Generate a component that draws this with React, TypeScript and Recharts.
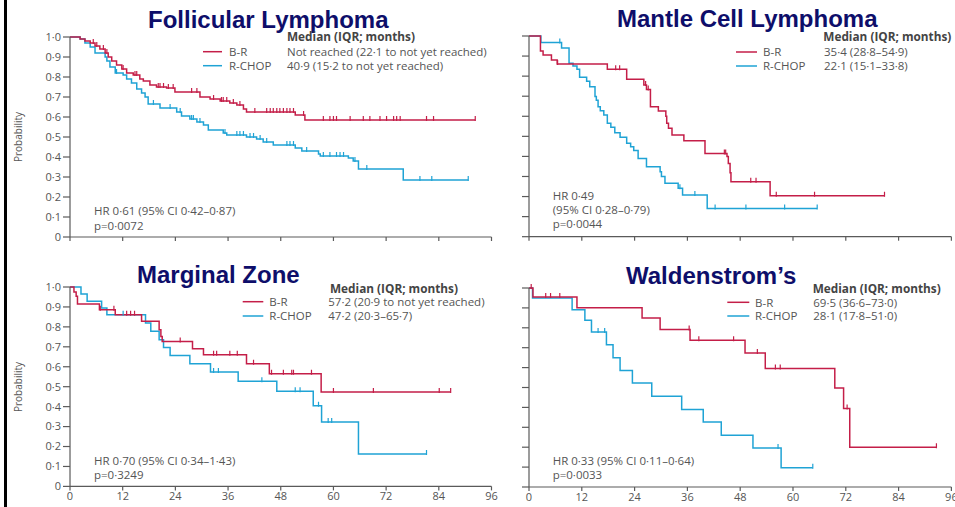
import React from "react";
import { LineChart, Line, XAxis, YAxis } from "recharts";

// ---------- tick labels ----------
const xTicks = [0, 12, 24, 36, 48, 60, 72, 84, 96];
const yTicks = [0, 0.1, 0.2, 0.3, 0.4, 0.5, 0.6, 0.7, 0.8, 0.9, 1.0];
const panelTitles = ["Follicular Lymphoma", "Mantle Cell Lymphoma", "Marginal Zone", "Waldenstrom’s"];
const seriesNames = ["B-R", "R-CHOP"];

// ---------- Follicular Lymphoma ----------
const flBrT = [2.3, 3.4, 4.6, 5.7, 6.8, 8.0, 8.7, 9.5, 10.6, 11.8, 12.9, 14.4, 15.9, 16.7, 18.2, 19.7, 22.0, 23.9, 29.6, 31.9, 34.2, 36.4, 38.0, 39.5, 40.2, 51.3, 53.5];
const flBrS = [0.99, 0.98, 0.97, 0.955, 0.94, 0.92, 0.9, 0.88, 0.86, 0.84, 0.82, 0.81, 0.79, 0.78, 0.76, 0.75, 0.745, 0.725, 0.7, 0.69, 0.68, 0.67, 0.66, 0.64, 0.625, 0.61, 0.585];
const flBrCens = [5.3, 6.1, 7.6, 8.4, 12.1, 14.8, 15.2, 20.1, 20.5, 21.3, 22.4, 23.5, 27.7, 28.9, 32.7, 34.5, 34.9, 35.7, 37.2, 38.7, 42.1, 44.8, 45.6, 46.3, 47.1, 47.8, 48.6, 49.4, 50.1, 50.9, 53.2, 57.7, 59.2, 60.0, 60.7, 63.8, 66.8, 68.3, 70.6, 72.1, 73.7, 74.4, 75.2, 81.2, 82.8, 92.3];
const flRcT = [2.3, 3.4, 4.6, 5.7, 8.0, 8.4, 9.1, 10.3, 12.1, 12.9, 14.0, 15.2, 16.3, 17.1, 17.8, 20.5, 24.3, 25.4, 27.3, 28.9, 30.4, 31.5, 34.9, 35.7, 40.2, 42.5, 44.0, 46.3, 51.3, 52.8, 56.6, 57.0, 63.4, 64.5, 65.7, 75.9];
const flRcS = [0.99, 0.97, 0.95, 0.92, 0.9, 0.88, 0.85, 0.82, 0.81, 0.79, 0.77, 0.74, 0.72, 0.7, 0.665, 0.645, 0.625, 0.605, 0.59, 0.575, 0.56, 0.535, 0.52, 0.51, 0.5, 0.49, 0.475, 0.46, 0.445, 0.43, 0.415, 0.405, 0.395, 0.38, 0.34, 0.285];
const flRcCens = [10.6, 19.0, 22.8, 25.1, 27.7, 28.1, 29.6, 35.3, 38.0, 38.7, 39.5, 41.0, 41.8, 43.3, 44.8, 49.4, 50.1, 50.9, 53.9, 57.7, 59.2, 60.7, 61.5, 62.3, 64.9, 67.6, 79.7, 82.4, 90.7];

// ---------- Mantle Cell Lymphoma ----------
const mcBrT = [2.6, 3.2, 5.1, 6.4, 17.8, 22.2, 26.1, 26.7, 27.6, 29.4, 31.1, 31.3, 31.7, 32.5, 35.2, 40.0, 45.0, 45.3, 45.7, 45.9, 54.8];
const mcBrS = [0.925, 0.905, 0.88, 0.86, 0.834, 0.784, 0.756, 0.734, 0.648, 0.626, 0.6, 0.565, 0.54, 0.507, 0.478, 0.415, 0.4, 0.365, 0.319, 0.274, 0.204];
const mcBrCens = [6.5, 19.7, 20.6, 26.5, 27.1, 44.4, 44.7, 50.4, 51.6, 56.2, 64.9, 80.8];
const mcRcT = [2.7, 7.4, 9.1, 10.0, 10.9, 11.5, 13.1, 13.8, 15.0, 15.3, 15.7, 16.2, 17.0, 17.8, 18.6, 19.5, 20.7, 22.2, 23.1, 23.8, 24.8, 26.7, 29.8, 30.1, 30.9, 33.9, 34.9, 40.5];
const mcRcS = [0.967, 0.94, 0.864, 0.85, 0.834, 0.794, 0.775, 0.747, 0.698, 0.68, 0.648, 0.627, 0.606, 0.565, 0.545, 0.518, 0.495, 0.465, 0.448, 0.43, 0.39, 0.349, 0.324, 0.3, 0.266, 0.241, 0.208, 0.141];
const mcRcCens = [7.0, 34.3, 37.7, 42.3, 49.3, 58.1, 65.5];

// ---------- Marginal Zone ----------
const mzBrT = [0.9, 1.4, 1.7, 6.7, 10.3, 16.3, 20.3, 20.7, 21.0, 27.9, 30.4, 40.2, 45.4, 57.2];
const mzBrS = [0.975, 0.953, 0.915, 0.886, 0.861, 0.828, 0.786, 0.752, 0.727, 0.69, 0.66, 0.615, 0.565, 0.473];
const mzBrCens = [6.9, 10.0, 12.9, 13.8, 14.7, 25.1, 32.7, 33.4, 36.4, 38.1, 41.8, 45.9, 48.6, 50.5, 50.9, 55.0, 60.0, 69.1, 84.1, 86.7];
const mzRcT = [2.5, 3.9, 7.2, 8.4, 17.2, 18.4, 20.3, 21.3, 22.8, 27.3, 32.0, 38.3, 47.1, 55.4, 57.3, 65.7];
const mzRcS = [0.965, 0.928, 0.895, 0.861, 0.82, 0.778, 0.736, 0.697, 0.656, 0.615, 0.574, 0.527, 0.477, 0.405, 0.323, 0.162];
const mzRcCens = [12.1, 32.7, 33.8, 43.7, 51.3, 52.4, 56.6, 58.8, 59.6, 81.2];

// ---------- Waldenstrom's ----------
const wmBrT = [0.9, 10.9, 25.7, 29.8, 36.6, 49.1, 53.7, 69.5, 71.5, 72.9];
const wmBrS = [0.955, 0.901, 0.849, 0.792, 0.737, 0.673, 0.595, 0.497, 0.394, 0.2];
const wmBrCens = [0.5, 3.8, 4.9, 7.0, 36.4, 38.6, 46.5, 51.9, 56.0, 57.1, 72.3, 92.6];
const wmRcT = [0.8, 9.8, 12.7, 14.2, 17.6, 19.1, 20.7, 23.5, 27.9, 34.7, 39.6, 43.7, 50.9, 57.3];
const wmRcS = [0.95, 0.891, 0.838, 0.779, 0.715, 0.65, 0.586, 0.523, 0.456, 0.39, 0.327, 0.26, 0.196, 0.097];
const wmRcCens = [15.7, 17.2, 56.6, 64.5];

const RED = "#c41e48";
const CYAN = "#1fa3d5";
const AXIS = "#5a5a5a";
const TEXT = "#555";
const NAVY = "#0e0e6a";
const FS = 11.5;

type Pt = { t: number; s: number; c: boolean };

function buildSeries(evT: number[], evS: number[], cens: number[]): Pt[] {
  const pts: Pt[] = [{ t: 0, s: 1, c: false }];
  evT.forEach((t, i) => pts.push({ t, s: evS[i], c: false }));
  const levelAt = (t: number) => {
    let s = 1;
    evT.forEach((et, i) => {
      if (et <= t) s = evS[i];
    });
    return s;
  };
  cens.forEach((t) => pts.push({ t, s: levelAt(t), c: true }));
  pts.sort((a, b) => a.t - b.t);
  return pts;
}

const fmtY = (v: number) => (v === 0 ? "0" : v.toFixed(1).replace(".", "·"));
const blank = () => "";

function makeDot(color: string) {
  return (props: any) => {
    const { cx, cy, payload, index } = props;
    if (!payload || !payload.c || cx == null || cy == null) return <g key={`d-${index}`} />;
    return <line key={`d-${index}`} x1={cx} x2={cx} y1={cy - 4} y2={cy + 1} stroke={color} strokeWidth={1.2} />;
  };
}

type PanelProps = {
  x0: number;
  x96: number;
  y1: number;
  y0: number;
  br: Pt[];
  rc: Pt[];
  showX: boolean;
  showY: boolean;
};

function KMPanel({ x0, x96, y1, y0, br, rc, showX, showY }: PanelProps) {
  const ml = 60;
  const mr = 14;
  const mt = 10;
  const xh = 30;
  const W = x96 - x0 + ml + mr;
  const H = y0 - y1 + mt + xh;
  return (
    <div style={{ position: "absolute", left: x0 - ml, top: y1 - mt, width: W, height: H }}>
      <LineChart width={W} height={H} margin={{ top: mt, right: mr, bottom: 0, left: 0 }}>
        <XAxis
          type="number"
          dataKey="t"
          domain={[0, 96]}
          ticks={xTicks}
          interval={0}
          allowDataOverflow
          height={xh}
          tickSize={4}
          axisLine={{ stroke: AXIS, strokeWidth: 1.2 }}
          tickLine={{ stroke: AXIS, strokeWidth: 1.2 }}
          tick={{ fill: TEXT, fontSize: 11 }}
          tickFormatter={showX ? (v: number) => String(v) : blank}
        />
        <YAxis
          type="number"
          domain={[0, 1]}
          ticks={yTicks}
          interval={0}
          width={ml}
          tickSize={7}
          axisLine={{ stroke: AXIS, strokeWidth: 1.2 }}
          tickLine={{ stroke: AXIS, strokeWidth: 1.2 }}
          tick={{ fill: TEXT, fontSize: 11 }}
          tickFormatter={showY ? fmtY : blank}
        />
        <Line
          data={rc}
          dataKey="s"
          name={seriesNames[1]}
          type="stepAfter"
          stroke={CYAN}
          strokeWidth={1.5}
          dot={makeDot(CYAN)}
          activeDot={false}
          isAnimationActive={false}
        />
        <Line
          data={br}
          dataKey="s"
          name={seriesNames[0]}
          type="stepAfter"
          stroke={RED}
          strokeWidth={1.5}
          dot={makeDot(RED)}
          activeDot={false}
          isAnimationActive={false}
        />
      </LineChart>
    </div>
  );
}

function LegendBlock({ hx, hy, lx1, lx2, ly1, ly2, labx, valx, v1, v2 }: any) {
  return (
    <g>
      <text x={hx} y={hy} fontWeight="bold" fill="#444" fontSize={FS + 0.3}>
        Median (IQR; months)
      </text>
      <line x1={lx1} x2={lx2} y1={ly1} y2={ly1} stroke={RED} strokeWidth={1.5} />
      <line x1={lx1} x2={lx2} y1={ly2} y2={ly2} stroke={CYAN} strokeWidth={1.5} />
      <text x={labx} y={ly1 + 4.2} fill={TEXT} fontSize={FS}>{seriesNames[0]}</text>
      <text x={labx} y={ly2 + 4.2} fill={TEXT} fontSize={FS}>{seriesNames[1]}</text>
      <text x={valx} y={ly1 + 4.2} fill={TEXT} fontSize={FS}>{v1}</text>
      <text x={valx} y={ly2 + 4.2} fill={TEXT} fontSize={FS}>{v2}</text>
    </g>
  );
}

export default function App() {
  const fl = { br: buildSeries(flBrT, flBrS, flBrCens), rc: buildSeries(flRcT, flRcS, flRcCens) };
  const mc = { br: buildSeries(mcBrT, mcBrS, mcBrCens), rc: buildSeries(mcRcT, mcRcS, mcRcCens) };
  const mz = { br: buildSeries(mzBrT, mzBrS, mzBrCens), rc: buildSeries(mzRcT, mzRcS, mzRcCens) };
  const wm = { br: buildSeries(wmBrT, wmBrS, wmBrCens), rc: buildSeries(wmRcT, wmRcS, wmRcCens) };
  const font = "'Open Sans', 'DejaVu Sans', sans-serif";
  return (
    <div
      style={{
        position: "absolute",
        left: 0,
        top: 0,
        width: 955,
        height: 507,
        background: "#fff",
        overflow: "hidden",
        fontFamily: font,
      }}
    >
      <KMPanel x0={70} x96={491.5} y1={37} y0={237} br={fl.br} rc={fl.rc} showX={false} showY={true} />
      <KMPanel x0={529.3} x96={951.7} y1={36} y0={236.7} br={mc.br} rc={mc.rc} showX={false} showY={false} />
      <KMPanel x0={70} x96={491.5} y1={287.3} y0={486.7} br={mz.br} rc={mz.rc} showX={true} showY={true} />
      <KMPanel x0={529.3} x96={951.7} y1={287.7} y0={486.7} br={wm.br} rc={wm.rc} showX={true} showY={false} />
      <svg
        width={955}
        height={507}
        style={{ position: "absolute", left: 0, top: 0, pointerEvents: "none", fontFamily: font }}
      >
        <rect x={4} y={0} width={3} height={507} fill="#000" />
        <g fontFamily="'Liberation Sans', Arial, sans-serif" fontWeight="bold" fontSize={24} fill={NAVY}>
          <text x={148} y={27.7}>{panelTitles[0]}</text>
          <text x={617} y={26.7}>{panelTitles[1]}</text>
          <text x={137} y={283.3}>{panelTitles[2]}</text>
          <text x={626} y={284.3}>{panelTitles[3]}</text>
        </g>
        <text x={22} y={137} fill={TEXT} fontSize={10} textAnchor="middle" transform="rotate(-90 22 137)">
          Probability
        </text>
        <text x={22} y={387} fill={TEXT} fontSize={10} textAnchor="middle" transform="rotate(-90 22 387)">
          Probability
        </text>
        <LegendBlock hx={287} hy={41.3} lx1={203} lx2={222} ly1={51.7} ly2={65.7} labx={229} valx={287}
          v1="Not reached (22·1 to not yet reached)" v2="40·9 (15·2 to not yet reached)" />
        <LegendBlock hx={823.3} hy={41.3} lx1={736} lx2={757} ly1={52} ly2={66} labx={763} valx={824}
          v1="35·4 (28·8–54·9)" v2="22·1 (15·1–33·8)" />
        <LegendBlock hx={330} hy={292.6} lx1={242.7} lx2={263.3} ly1={301.7} ly2={316} labx={269.3} valx={328.3}
          v1="57·2 (20·9 to not yet reached)" v2="47·2 (20·3–65·7)" />
        <LegendBlock hx={812.7} hy={292.6} lx1={727.3} lx2={749.3} ly1={302.3} ly2={316} labx={755} valx={813.3}
          v1="69·5 (36·6–73·0)" v2="28·1 (17·8–51·0)" />
        <g fill={TEXT} fontSize={FS}>
          <text x={94} y={215.3}>HR 0·61 (95% CI 0·42–0·87)</text>
          <text x={94} y={230}>p=0·0072</text>
          <text x={552.7} y={199.8}>HR 0·49</text>
          <text x={552.7} y={214.3}>(95% CI 0·28–0·79)</text>
          <text x={552.7} y={228.4}>p=0·0044</text>
          <text x={94} y={465}>HR 0·70 (95% CI 0·34–1·43)</text>
          <text x={94} y={479.3}>p=0·3249</text>
          <text x={552.7} y={465}>HR 0·33 (95% CI 0·11–0·64)</text>
          <text x={552.7} y={479.3}>p=0·0033</text>
        </g>
      </svg>
    </div>
  );
}
